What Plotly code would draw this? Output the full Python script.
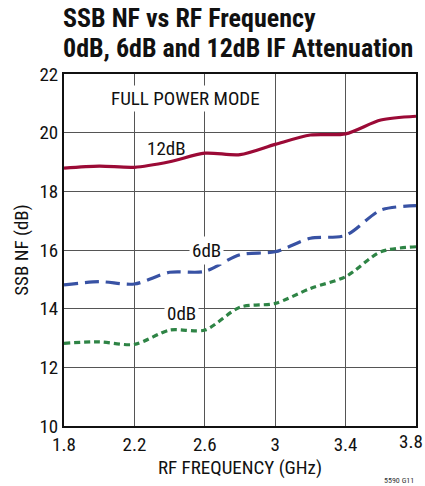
import plotly.graph_objects as go

freq = [1.8, 2.0, 2.2, 2.4, 2.6, 2.8, 3.0, 3.2, 3.4, 3.6, 3.8]
nf_12db = [18.79, 18.86, 18.82, 19.01, 19.30, 19.25, 19.60, 19.92, 19.96, 20.43, 20.56]
nf_6db = [14.81, 14.92, 14.84, 15.24, 15.27, 15.84, 15.94, 16.40, 16.50, 17.36, 17.51]
nf_0db = [12.82, 12.87, 12.78, 13.27, 13.27, 14.05, 14.18, 14.69, 15.09, 15.94, 16.11]

x_ticks = [1.8, 2.2, 2.6, 3.0, 3.4, 3.8]
x_tick_labels = ["1.8", "2.2", "2.6", "3", "3.4", ""]
last_x_label = "3.8"
y_ticks = [10, 12, 14, 16, 18, 20, 22]

FONT = "Liberation Sans Narrow, Arial Narrow, Roboto Condensed, sans-serif"
FS = 19

fig = go.Figure()
fig.add_trace(go.Scatter(x=freq, y=nf_12db, mode="lines", line=dict(color="#9b0a36", width=3.2, shape="spline", smoothing=0.8), name="12dB"))
fig.add_trace(go.Scatter(x=freq, y=nf_6db, mode="lines", line=dict(color="#3852a4", width=3.2, shape="spline", smoothing=0.8, dash="14px,7px"), name="6dB"))
fig.add_trace(go.Scatter(x=freq, y=nf_0db, mode="lines", line=dict(color="#2e8445", width=3.2, shape="spline", smoothing=0.8, dash="6px,4px"), name="0dB"))

fig.add_annotation(x=2.49, y=21.15, text="FULL POWER MODE", showarrow=False, font=dict(size=FS, color="#111", family=FONT), bgcolor="white")
fig.add_annotation(x=2.38, y=19.45, text="12dB", showarrow=False, font=dict(size=FS, color="#111", family=FONT))
fig.add_annotation(x=2.61, y=16.0, text="6dB", showarrow=False, font=dict(size=FS, color="#111", family=FONT), bgcolor="white", borderpad=2)
fig.add_annotation(x=2.47, y=13.85, text="0dB", showarrow=False, font=dict(size=FS, color="#111", family=FONT), bgcolor="white", borderpad=2)

# last x tick label, nudged so it stays inside the page
fig.add_annotation(x=x_ticks[-1], y=0, yref="paper", yanchor="top", yshift=-2, xshift=-5, text=last_x_label,
                   showarrow=False, font=dict(size=FS, color="#111", family=FONT))

fig.add_annotation(xref="paper", yref="paper", x=-0.005, y=1.0, yshift=56, xanchor="left", yanchor="middle",
                   text="<b>SSB NF vs RF Frequency</b>", align="left", borderpad=0,
                   showarrow=False, font=dict(size=26, color="#111", family=FONT))
fig.add_annotation(xref="paper", yref="paper", x=-0.005, y=1.0, yshift=26, xanchor="left", yanchor="middle",
                   text="<b>0dB, 6dB and 12dB IF Attenuation</b>", align="left", borderpad=0,
                   showarrow=False, font=dict(size=26, color="#111", family=FONT))
fig.add_annotation(xref="paper", yref="paper", x=1.0, y=0, yshift=-48, xanchor="right", yanchor="top",
                   text="5590 G11", showarrow=False, font=dict(size=8, color="#333", family=FONT))

fig.update_xaxes(range=[1.8, 3.8], tickvals=x_ticks, ticktext=x_tick_labels, showgrid=True, gridcolor="#555", gridwidth=1,
                 showline=True, linecolor="#111", linewidth=2, mirror=True, ticks="", zeroline=False,
                 tickfont=dict(size=FS, color="#111", family=FONT),
                 title=dict(text="RF FREQUENCY (GHz)", font=dict(size=FS, color="#111", family=FONT), standoff=6))
fig.update_yaxes(range=[10, 22], tickvals=y_ticks, showgrid=True, gridcolor="#555", gridwidth=1,
                 showline=True, linecolor="#111", linewidth=2, mirror=True, ticks="", zeroline=False,
                 tickfont=dict(size=FS, color="#111", family=FONT),
                 title=dict(text="SSB NF (dB)", font=dict(size=FS, color="#111", family=FONT), standoff=6))

fig.update_layout(width=425, height=486, margin=dict(l=64, r=9, t=74, b=60, autoexpand=False),
                  plot_bgcolor="white", paper_bgcolor="white", showlegend=False)

fig.write_html("out.html", config={"displayModeBar": False},
               post_script="document.body.style.margin='0';")
